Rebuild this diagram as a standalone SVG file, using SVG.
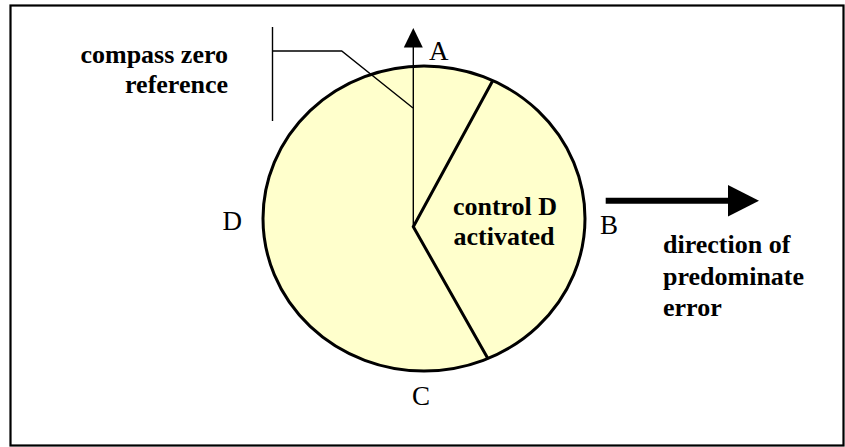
<svg xmlns="http://www.w3.org/2000/svg" width="845" height="447" viewBox="0 0 845 447">
  <style>
    .bold { font-family: "Liberation Serif", "Times New Roman", serif; font-size: 26px; font-weight: bold; fill: #000; }
    .lbl { font-family: "Liberation Serif", "Times New Roman", serif; font-size: 27px; fill: #000; }
    .thin { stroke: #000; stroke-width: 1.4; fill: none; }
    .thick { stroke: #000; stroke-width: 3; fill: none; stroke-linejoin: miter; }
  </style>
  <defs>
    <marker id="tri" viewBox="0 0 10 10" refX="0" refY="5" markerWidth="10" markerHeight="10" markerUnits="userSpaceOnUse" orient="auto">
      <path d="M0,0 L10,5 L0,10 z" fill="#000"/>
    </marker>
  </defs>
  <rect x="0" y="0" width="845" height="447" fill="#fff"/>
  <rect id="frame" x="10.5" y="5.5" width="833" height="440" fill="none" stroke="#000" stroke-width="2.2"/>

  <g id="compass">
    <ellipse cx="424" cy="218.5" rx="161" ry="152.5" fill="#FFFFCC" stroke="#000" stroke-width="3"/>
  </g>

  <g id="connectors">
    <polyline class="thick" points="492.7,80.7 413.3,226.7 488.3,359.3"/>
    <line class="thin" x1="413.3" y1="226.7" x2="413.3" y2="46"/>
    <polygon points="413.3,28 403.8,47.5 422.8,47.5" fill="#000"/>
    <line class="thin" x1="272.5" y1="27" x2="272.5" y2="121"/>
    <polyline class="thin" points="272.5,51 341.7,51 413,108"/>
    <line x1="605.7" y1="200.7" x2="730" y2="200.7" stroke="#000" stroke-width="6"/>
    <polygon points="728,185 759,200.7 728,216.4" fill="#000"/>
  </g>

  <g id="label-compass-zero">
    <text class="bold" x="228" y="63" text-anchor="end">compass zero</text>
    <text class="bold" x="228" y="93" text-anchor="end">reference</text>
  </g>
  <g id="label-control">
    <text class="bold" x="505" y="215" text-anchor="middle">control D</text>
    <text class="bold" x="504" y="244.5" text-anchor="middle">activated</text>
  </g>
  <g id="label-direction">
    <text class="bold" x="663" y="253">direction of</text>
    <text class="bold" x="663" y="284.5">predominate</text>
    <text class="bold" x="663" y="315.5">error</text>
  </g>
  <g id="label-A"><text class="lbl" x="429" y="60">A</text></g>
  <g id="label-B"><text class="lbl" x="600" y="234">B</text></g>
  <g id="label-C"><text class="lbl" x="412" y="405">C</text></g>
  <g id="label-D"><text class="lbl" x="222.5" y="230">D</text></g>
</svg>
